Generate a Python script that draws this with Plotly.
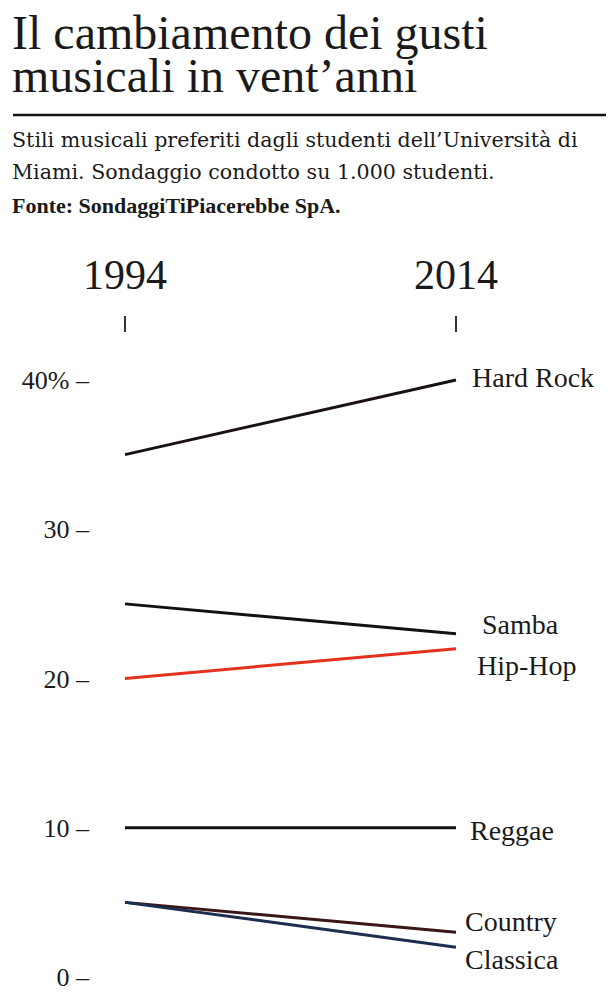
import plotly.graph_objects as go

# ---- data ----
years = [1994, 2014]
genres = ["Hard Rock", "Samba", "Hip-Hop", "Reggae", "Country", "Classica"]
values_1994 = [35, 25, 20, 10, 5, 5]
values_2014 = [40, 23, 22, 10, 3, 2]
y_tickvals = [0, 10, 20, 30, 40]
y_ticktext = ["0 –", "10 –", "20 –", "30 –", "40% –"]
x_ticktext = ["1994", "2014"]

title_lines = ["Il cambiamento dei gusti", "musicali in vent’anni"]
subtitle_lines = [
    "Stili musicali preferiti dagli studenti dell’Università di",
    "Miami. Sondaggio condotto su 1.000 studenti.",
    "<b>Fonte: SondaggiTiPiacerebbe SpA.</b>",
]

# ---- style ----
colors = {
    "Hard Rock": "#1a1212",
    "Samba": "#111111",
    "Hip-Hop": "#e3311d",
    "Reggae": "#111111",
    "Country": "#3a1618",
    "Classica": "#1c2d4f",
}
label_xshift = {"Hard Rock": 14, "Samba": 24, "Hip-Hop": 19, "Reggae": 12, "Country": 7, "Classica": 7}
label_yshift = {"Hard Rock": 3, "Samba": 9, "Hip-Hop": -17, "Reggae": -3, "Country": 11, "Classica": -12}
SERIF = "Liberation Serif, Times New Roman, serif"
SERIF_WIDE = "DejaVu Serif, Georgia, serif"
TXT = "#1a1a1a"

W, H = 611, 1008
L, T = 94, 333
PW, PH = W - L, H - T


def px_x(px):
    return (px - L) / PW


def px_y(py):
    return (H - py) / PH


fig = go.Figure()
for g, v0, v1 in zip(genres, values_1994, values_2014):
    fig.add_trace(go.Scatter(
        x=years, y=[v0, v1], mode="lines", name=g,
        line=dict(color=colors[g], width=3), hoverinfo="skip",
    ))

annotations = []
for g, v1 in zip(genres, values_2014):
    annotations.append(dict(
        x=years[1], y=v1, xref="x", yref="y", text=g, showarrow=False,
        xanchor="left", yanchor="middle",
        xshift=label_xshift[g], yshift=label_yshift[g],
        font=dict(family=SERIF, size=28, color=TXT),
    ))

title_centers = [32, 76]
for line, cy in zip(title_lines, title_centers):
    annotations.append(dict(
        x=px_x(10), y=px_y(cy), xref="paper", yref="paper", text=line,
        showarrow=False, xanchor="left", yanchor="middle",
        font=dict(family=SERIF, size=48, color=TXT),
    ))

sub_centers = [140, 172, 205]
sub_fonts = [(SERIF_WIDE, 20.6), (SERIF_WIDE, 20.6), (SERIF, 22)]
for line, cy, (fam, sz) in zip(subtitle_lines, sub_centers, sub_fonts):
    annotations.append(dict(
        x=px_x(10), y=px_y(cy), xref="paper", yref="paper", text=line,
        showarrow=False, xanchor="left", yanchor="middle",
        font=dict(family=fam, size=sz, color=TXT),
    ))

fig.update_layout(
    width=W, height=H,
    margin=dict(l=L, r=0, t=T, b=0, pad=0),
    paper_bgcolor="white", plot_bgcolor="white",
    showlegend=False,
    annotations=annotations,
    shapes=[dict(
        type="line", xref="paper", yref="paper",
        x0=px_x(13), x1=px_x(606), y0=px_y(115), y1=px_y(115),
        line=dict(color="#111111", width=2.5),
    )],
)

fig.update_xaxes(
    range=[1992.127, 2023.366], side="top",
    tickvals=years, ticktext=x_ticktext,
    ticks="outside", ticklen=16, tickwidth=1.5, tickcolor="#333333",
    tickfont=dict(family=SERIF, size=42, color=TXT),
    ticklabelstandoff=10,
    showgrid=False, zeroline=False, showline=False,
)
fig.update_yaxes(
    range=[-2.077, 43.149],
    tickvals=y_tickvals, ticktext=y_ticktext,
    ticks="", tickfont=dict(family=SERIF, size=26, color=TXT),
    ticklabelstandoff=4,
    showgrid=False, zeroline=False, showline=False,
)

fig.write_html(
    "out.html",
    config={"displayModeBar": False},
    post_script="document.body.style.margin='0';document.body.style.overflow='hidden';",
)
